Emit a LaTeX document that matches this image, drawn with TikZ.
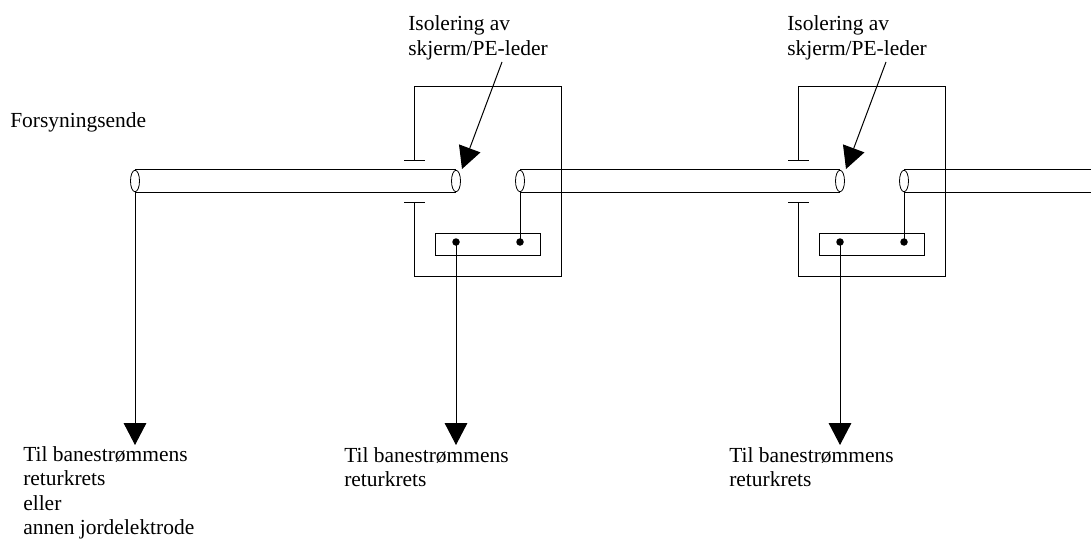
\documentclass[tikz,border=0pt]{standalone}
\usepackage{fontspec}
\setmainfont{Liberation Serif}
\usetikzlibrary{arrows.meta,shapes.geometric,positioning}
\tikzset{
  px/.style={x=0.75pt,y=-0.75pt},
  wire/.style={draw=black,line width=0.75pt},
  cableend/.style={ellipse,draw=black,fill=white,line width=0.6pt,minimum width=9*0.75pt,minimum height=21.5*0.75pt,inner sep=0pt},
  termbar/.style={rectangle,draw=black,line width=0.75pt,minimum width=105*0.75pt,minimum height=22*0.75pt,inner sep=0pt},
  termdot/.style={circle,fill=black,minimum size=7.5*0.75pt,inner sep=0pt},
  bigarrow/.style={wire,-{Triangle[length=16.5pt,width=17pt]}},
  label/.style={anchor=north west,inner sep=0pt,align=left,font=\fontsize{16.1}{18.4}\selectfont}
}
\begin{document}
\begin{tikzpicture}[px]
\useasboundingbox (0,0) rectangle (1091,539);
% cable ends
\node[cableend] (c0) at (135,181) {};
% sections
\foreach \n/\dx in {1/0,2/384}{
  \node[cableend] (a\n) at (456+\dx,181) {};
  \node[cableend] (b\n) at (520+\dx,181) {};
  \node[termbar] (bar\n) at (487.5+\dx,244) {};
  \node[termdot] (da\n) at (456+\dx,242) {};
  \node[termdot] (db\n) at (520+\dx,242) {};
  \coordinate (tl\n) at (404+\dx,160);
  \coordinate (tr\n) at (425+\dx,160);
  \coordinate (bl\n) at (404+\dx,202);
  \coordinate (br\n) at (425+\dx,202);
  \coordinate (tm\n) at (414+\dx,160);
  \coordinate (bm\n) at (414+\dx,202);
  \coordinate (corner\n) at (561+\dx,86);
  \coordinate (cornerb\n) at (561+\dx,276);
  \coordinate (tip\n) at (456+\dx,445);
  \coordinate (lab\n) at (502+\dx,62);
  \coordinate (pt\n) at (462+\dx,169);
  \draw[wire] (tl\n) -- (tr\n);
  \draw[wire] (bl\n) -- (br\n);
  \draw[wire] (tm\n) -- (tm\n |- corner\n) -- (corner\n) -- (cornerb\n) -- (bm\n |- cornerb\n) -- (bm\n);
  \draw[wire] (b\n.south) -- (db\n.center);
  \draw[bigarrow] (da\n.center) -- (tip\n);
  \draw[bigarrow] (lab\n) -- (pt\n);
}
\coordinate (edge) at (1091,0);
\draw[wire] (c0.north) -- (a1.north) (c0.south) -- (a1.south);
\draw[wire] (b1.north) -- (a2.north) (b1.south) -- (a2.south);
\draw[wire] (b2.north) -- (b2.north -| edge) (b2.south) -- (b2.south -| edge);
\coordinate (tip0) at (135,445);
\draw[bigarrow] (c0.south) -- (tip0);
% labels
\node[label] (iso1) at (408,15.5) {Isolering av\\skjerm/PE-leder};
\node[label] (iso2) at (787,15.5) {Isolering av\\skjerm/PE-leder};
\node[label] (fors) at (10,112.5) {Forsyningsende};
\node[label] (ret0) at (23,446) {Til banestrømmens\\returkrets\\eller\\annen jordelektrode};
\node[label] (ret1) at (344,447) {Til banestrømmens\\returkrets};
\node[label] (ret2) at (729,447) {Til banestrømmens\\returkrets};
\end{tikzpicture}
\end{document}
